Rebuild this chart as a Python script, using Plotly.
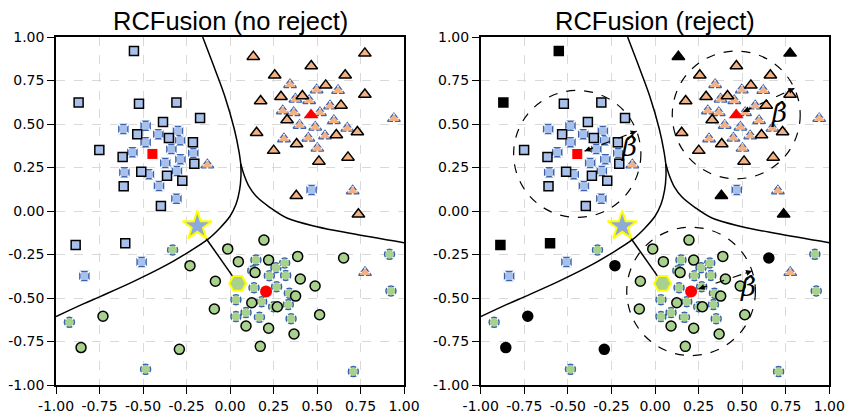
import math
import plotly.graph_objects as go

# ---------------- data ----------------
# class 1 (squares): training points (solid border) and test points (dashed border)
sq_x = [-0.552, -0.870, -0.523, -0.308, -0.172, -0.385, -0.533, -0.351, -0.213, -0.751,
        -0.617, -0.205, -0.510, -0.362, -0.274, -0.611, -0.397, -0.887, -0.602]
sq_y = [0.920, 0.623, 0.617, 0.623, 0.534, 0.511, 0.441, 0.420, 0.395, 0.351,
        0.310, 0.272, 0.226, 0.203, 0.174, 0.142, 0.029, -0.195, -0.186]
sq_rej = [1, 1, 0, 0, 0, 0, 0, 0, 0, 0, 0, 0, 0, 0, 0, 0, 0, 1, 1]
sqt_x = [-0.613, -0.485, -0.412, -0.299, -0.287, -0.485, -0.561, -0.337, -0.211, -0.285,
         -0.372, -0.607, -0.466, -0.305, -0.408, -0.308, -0.837, -0.508, 0.469]
sqt_y = [0.471, 0.490, 0.441, 0.460, 0.406, 0.395, 0.337, 0.356, 0.333, 0.297,
         0.276, 0.222, 0.211, 0.230, 0.144, 0.071, -0.374, -0.293, 0.121]

# class 2 (triangles)
tr_x = [0.134, 0.775, 0.467, 0.257, 0.662, 0.550, 0.293, 0.416, 0.176, 0.775, 0.638,
        0.328, 0.153, 0.383, 0.611, 0.732, 0.251, 0.511, 0.678, 0.381, 0.738]
tr_y = [0.887, 0.906, 0.833, 0.780, 0.780, 0.722, 0.657, 0.661, 0.632, 0.670, 0.607,
        0.523, 0.450, 0.385, 0.437, 0.454, 0.347, 0.285, 0.308, 0.088, -0.019]
tr_rej = [1, 1, 0, 0, 0, 0, 0, 0, 0, 0, 0, 0, 0, 0, 0, 0, 0, 0, 0, 1, 1]
trt_x = [0.345, 0.498, 0.621, 0.376, 0.455, 0.575, 0.303, 0.366, 0.517, 0.400, 0.490,
         0.597, 0.674, 0.310, 0.450, 0.546, 0.502, 0.942, -0.130, 0.705, 0.776]
trt_y = [0.726, 0.695, 0.692, 0.642, 0.634, 0.603, 0.575, 0.565, 0.565, 0.492, 0.481,
         0.519, 0.475, 0.414, 0.418, 0.431, 0.360, 0.531, 0.264, 0.115, -0.354]

# class 3 (circles)
ci_x = [0.195, -0.013, 0.048, 0.222, 0.389, 0.144, -0.084, 0.404, 0.489, 0.377, 0.125, 0.272,
        -0.090, 0.515, 0.092, 0.222, 0.368, 0.174, 0.653, -0.230, -0.730, -0.856, -0.291]
ci_y = [-0.167, -0.218, -0.291, -0.282, -0.261, -0.354, -0.404, -0.391, -0.431, -0.489, -0.527,
        -0.550, -0.563, -0.596, -0.661, -0.674, -0.707, -0.778, -0.270, -0.314, -0.605, -0.785, -0.795]
ci_rej = [0] * 18 + [1, 1, 1, 1, 1]
cit_x = [0.149, 0.314, 0.264, 0.131, 0.226, 0.320, 0.138, 0.268, 0.341, 0.034, 0.182, 0.335,
         0.251, 0.092, 0.034, 0.169, 0.351, 0.917, 0.925, 0.709, -0.330, -0.923, -0.485]
cit_y = [-0.282, -0.299, -0.326, -0.343, -0.372, -0.370, -0.441, -0.435, -0.473, -0.510, -0.521,
         -0.538, -0.550, -0.584, -0.607, -0.611, -0.619, -0.249, -0.460, -0.923, -0.224, -0.640, -0.910]

# class centres (red markers)
center_x = [-0.446, 0.466, 0.207]
center_y = [0.328, 0.552, -0.462]
radius = [0.365, 0.367, 0.369]
arrow_angle_deg = [21, 24.6, 18.5]
beta_x = [-0.150, 0.710, 0.532]
beta_y = [0.370, 0.561, -0.439]

# query point (star) and its nearest sample (hexagon)
star_x, star_y = [-0.188], [-0.086]
hex_x, hex_y = [0.044], [-0.416]

# decision boundaries
b_up_x = [-0.157, -0.100, -0.030, 0.025, 0.052, 0.062]
b_up_y = [1.000, 0.850, 0.660, 0.470, 0.340, 0.270]
b_right_x = [0.062, 0.080, 0.110, 0.155, 0.230, 0.330, 0.500, 0.690, 1.000]
b_right_y = [0.270, 0.210, 0.140, 0.080, 0.020, -0.042, -0.090, -0.128, -0.182]
b_left_x = [0.062, 0.063, 0.055, 0.035, 0.000, -0.060, -0.130, -0.250, -0.364, -0.556, -0.747, -0.843, -1.000]
b_left_y = [0.270, 0.200, 0.120, 0.040, -0.030, -0.100, -0.165, -0.243, -0.310, -0.406, -0.492, -0.534, -0.607]

tick_vals = [-1.0, -0.75, -0.5, -0.25, 0.0, 0.25, 0.5, 0.75, 1.0]
tick_text = ["-1.00", "-0.75", "-0.50", "-0.25", "0.00", "0.25", "0.50", "0.75", "1.00"]
titles = ["RCFusion (no reject)", "RCFusion (reject)"]

# ---------------- styles ----------------
BLUE = "#a9c1ea"
ORANGE = "#f4b183"
GREEN = "#a9d18e"
DASHBLUE = "#3a63ad"
RED = "#ff0000"

fig = go.Figure()


def sc(x, y, xa, ya, **marker):
    fig.add_trace(go.Scatter(x=x, y=y, mode="markers", xaxis=xa, yaxis=ya,
                             hoverinfo="skip", marker=marker))


def add_panel(xa, ya, reject):
    # boundaries
    for bx, by in [(b_up_x, b_up_y), (b_right_x, b_right_y), (b_left_x, b_left_y)]:
        fig.add_trace(go.Scatter(x=bx, y=by, mode="lines", xaxis=xa, yaxis=ya,
                                 line=dict(color="black", width=1.5, shape="spline"),
                                 hoverinfo="skip"))
    # dashed (test) markers: border, gaps, fill cover
    dashed = [(sqt_x, sqt_y, "square", 9, BLUE, "x-thin", 10.6),
              (trt_x, trt_y, "triangle-up", 11, ORANGE, "cross-thin", 7.2),
              (cit_x, cit_y, "circle", 10, GREEN, "x-thin", 8.3)]
    for x, y, sym, s, col, gs, gsz in dashed:
        sc(x, y, xa, ya, symbol=sym, size=s, color=col, line=dict(color=DASHBLUE, width=1.5))
    for x, y, sym, s, col, gs, gsz in dashed:
        sc(x, y, xa, ya, symbol=gs, size=gsz, color="white", line=dict(color="white", width=1.8))
    for x, y, sym, s, col, gs, gsz in dashed:
        sc(x, y, xa, ya, symbol=sym, size=s - 1.6, color=col, line=dict(width=0))
    # solid (training) markers
    for x, y, rej, sym, s, col in [(sq_x, sq_y, sq_rej, "square", 9, BLUE),
                                   (tr_x, tr_y, tr_rej, "triangle-up", 11, ORANGE),
                                   (ci_x, ci_y, ci_rej, "circle", 10, GREEN)]:
        cols = ["black" if (reject and r) else col for r in rej]
        sc(x, y, xa, ya, symbol=sym, size=s, color=cols, line=dict(color="black", width=1.5))
    # class centres
    sc(center_x[:1], center_y[:1], xa, ya, symbol="square", size=10, color=RED)
    sc(center_x[1:2], center_y[1:2], xa, ya, symbol="triangle-up", size=13, color=RED)
    sc(center_x[2:], center_y[2:], xa, ya, symbol="circle", size=12, color=RED)
    # link star -> hexagon
    fig.add_trace(go.Scatter(x=star_x + hex_x, y=star_y + hex_y, mode="lines", xaxis=xa, yaxis=ya,
                             line=dict(color="black", width=1.5), hoverinfo="skip"))
    sc(hex_x, hex_y, xa, ya, symbol="hexagon2", size=17, color=GREEN, line=dict(color="#ffff00", width=2))
    sc(star_x, star_y, xa, ya, symbol="star", size=22, color="#8eaadb", line=dict(color="#ffff00", width=2))


add_panel("x", "y", False)
add_panel("x2", "y2", True)

shapes = []
annotations = []
for i in range(3):
    cx, cy, r = center_x[i], center_y[i], radius[i]
    shapes.append(dict(type="circle", xref="x2", yref="y2", x0=cx - r, x1=cx + r, y0=cy - r, y1=cy + r,
                       line=dict(color="black", width=1.2, dash="dash")))
    a = math.radians(arrow_angle_deg[i])
    dx, dy = math.cos(a), math.sin(a)
    ex, ey = cx + r * dx, cy + r * dy
    sx, sy = cx + 0.045 * dx, cy + 0.045 * dy
    shapes.append(dict(type="line", xref="x2", yref="y2", x0=sx, y0=sy, x1=ex, y1=ey,
                       line=dict(color="black", width=1.2, dash="dash")))
    for hx, hy, tx, ty in [(ex, ey, ex - 0.05 * dx, ey - 0.05 * dy),
                           (sx, sy, sx + 0.05 * dx, sy + 0.05 * dy)]:
        annotations.append(dict(x=hx, y=hy, ax=tx, ay=ty, xref="x2", yref="y2", axref="x2", ayref="y2",
                                text="", showarrow=True, arrowhead=2, arrowsize=1, arrowwidth=1.2,
                                arrowcolor="black"))
    annotations.append(dict(x=beta_x[i], y=beta_y[i], xref="x2", yref="y2", showarrow=False,
                            text="<i>β\u0302</i>", font=dict(family="DejaVu Serif", size=26, color="black")))

for i, ax in enumerate(["x", "x2"]):
    annotations.append(dict(x=0.5, y=1 - 21 / 414, xref=ax + " domain", yref="paper", showarrow=False,
                            text=titles[i], xanchor="center", yanchor="middle",
                            font=dict(family="Liberation Sans", size=25.5, color="black")))

axis_common = dict(range=[-1, 1], tickvals=tick_vals, ticktext=tick_text, showgrid=True,
                   gridcolor="#d9d9d9", griddash="dash", gridwidth=1, zeroline=False,
                   showline=True, linecolor="black", linewidth=1.5, mirror=True,
                   ticks="outside", ticklen=7, tickwidth=1.2, tickcolor="black", automargin=False,
                   tickfont=dict(family="DejaVu Sans", size=14, color="black"), fixedrange=True)

ydom = [(414 - 385) / 414, (414 - 37) / 414]
fig.update_layout(
    width=849, height=414, margin=dict(l=0, r=0, t=0, b=0, autoexpand=False),
    paper_bgcolor="white", plot_bgcolor="white", showlegend=False,
    xaxis=dict(domain=[56 / 849, 404 / 849], anchor="y", **axis_common),
    yaxis=dict(domain=ydom, anchor="x", **axis_common),
    xaxis2=dict(domain=[480.7 / 849, 829.3 / 849], anchor="y2", **axis_common),
    yaxis2=dict(domain=ydom, anchor="x2", **axis_common),
    shapes=shapes, annotations=annotations,
)

fig.write_html("out.html")
